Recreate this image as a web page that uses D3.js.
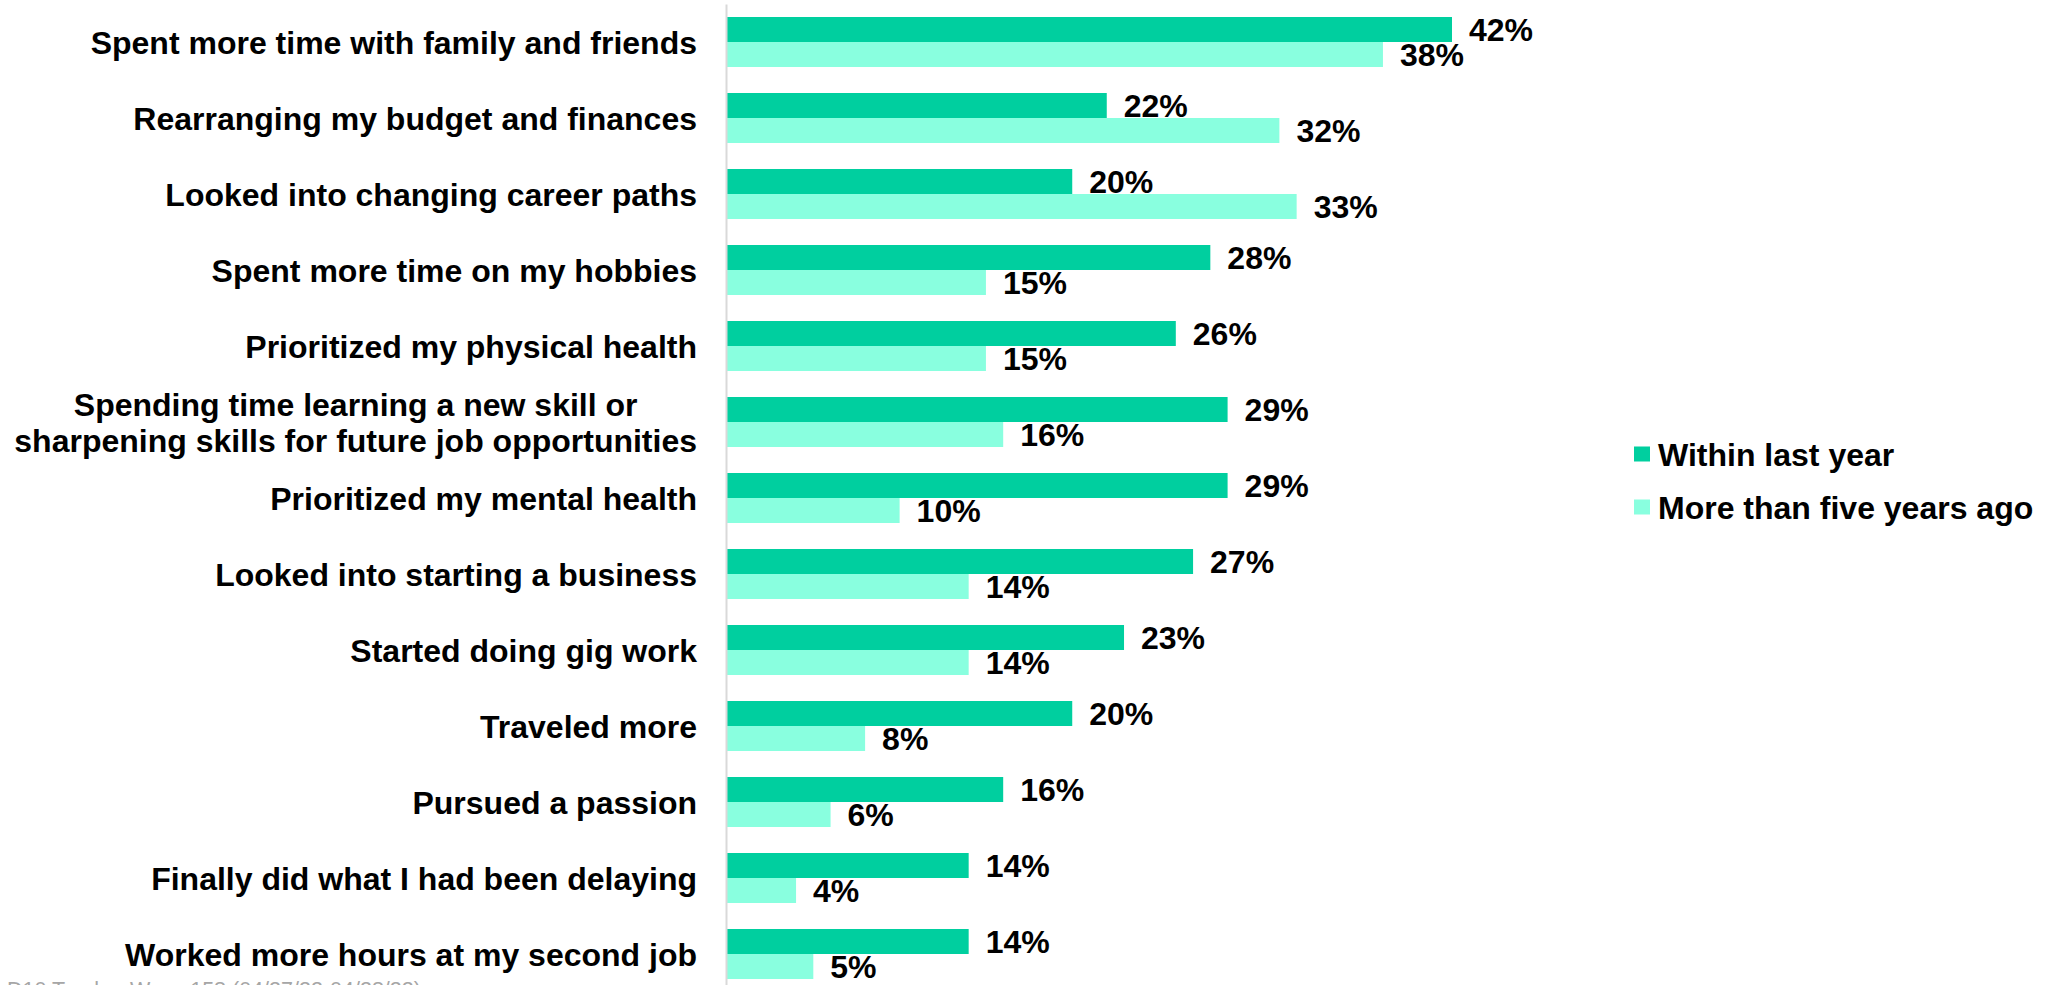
<!DOCTYPE html>
<html>
<head>
<meta charset="utf-8">
<script src="https://cdn.jsdelivr.net/npm/d3@7"></script>
<style>
  html, body { margin: 0; padding: 0; background: #ffffff; overflow: hidden; }
  svg { display: block; }
  text { font-family: "Liberation Sans", Arial, sans-serif; }
</style>
</head>
<body>
<svg id="chart" width="2051" height="985"></svg>
<script>
const categories = [
  "Spent more time with family and friends",
  "Rearranging my budget and finances",
  "Looked into changing career paths",
  "Spent more time on my hobbies",
  "Prioritized my physical health",
  "Spending time learning a new skill or\nsharpening skills for future job opportunities",
  "Prioritized my mental health",
  "Looked into starting a business",
  "Started doing gig work",
  "Traveled more",
  "Pursued a passion",
  "Finally did what I had been delaying",
  "Worked more hours at my second job"
];
const seriesNames = ["Within last year", "More than five years ago"];
const withinLastYear = [42, 22, 20, 28, 26, 29, 29, 27, 23, 20, 16, 14, 14];
const moreThanFiveYears = [38, 32, 33, 15, 15, 16, 10, 14, 14, 8, 6, 4, 5];
const seriesColors = ["#00CF9F", "#89FFDF"];
const footnote = "D10 Tracker Wave 158 (04/27/22-04/28/22)";

const seriesValues = [withinLastYear, moreThanFiveYears];
const rows = categories.map((c, i) => ({
  cat: c,
  vals: seriesNames.map((s, k) => ({ series: s, k: k, value: seriesValues[k][i] }))
}));

const svg = d3.select("#chart");
const axisX = 726;
const fontSize = 32;

const x = d3.scaleLinear().domain([0, 42]).range([axisX + 1, 1452]);
const y = d3.scaleBand().domain(categories).range([4, 992])
  .paddingInner(26 / 76).paddingOuter(13 / 76);
const ySub = d3.scaleBand().domain(seriesNames).range([0, y.bandwidth()]).padding(0);
const color = d3.scaleOrdinal().domain(seriesNames).range(seriesColors);

// Bars
const groups = svg.append("g").selectAll("g").data(rows).join("g")
  .attr("transform", d => `translate(0,${y(d.cat)})`);

groups.selectAll("rect").data(d => d.vals).join("rect")
  .attr("x", x(0))
  .attr("y", d => ySub(d.series))
  .attr("width", d => x(d.value) - x(0))
  .attr("height", ySub.bandwidth())
  .attr("fill", d => color(d.series));

groups.selectAll("text.val").data(d => d.vals).join("text")
  .attr("class", "val")
  .attr("x", d => x(d.value) + 17)
  .attr("y", d => ySub(d.series) + ySub.bandwidth() / 2)
  .attr("dy", "0.36em")
  .attr("font-size", fontSize)
  .attr("font-weight", "bold")
  .attr("fill", "#000")
  .text(d => d.value + "%");

// Category axis
const axis = d3.axisLeft(y).tickSize(0).tickSizeOuter(0).tickPadding(29);
const gAxis = svg.append("g").attr("transform", `translate(${axisX},0)`).call(axis);
gAxis.select(".domain").attr("stroke", "#D9D9D9").attr("stroke-width", 2);
gAxis.selectAll(".tick text")
  .attr("font-size", fontSize)
  .attr("font-weight", "bold")
  .attr("font-family", "'Liberation Sans', Arial, sans-serif")
  .attr("fill", "#000")
  .attr("dy", "0.36em")
  .each(function(d) {
    const lines = d.split("\n");
    if (lines.length < 2) { d3.select(this).text(d); return; }
    const t = d3.select(this);
    t.text(null);
    const lh = 36;
    const spans = lines.map((ln, i) => t.append("tspan")
      .attr("x", -29)
      .attr("y", (i - (lines.length - 1) / 2) * lh)
      .attr("dy", "0.36em")
      .text(ln));
    const widths = spans.map(s => s.node().getComputedTextLength());
    const maxW = d3.max(widths);
    t.attr("text-anchor", "middle");
    spans.forEach(s => s.attr("x", -29 - maxW / 2));
  });

// Legend
const legend = svg.append("g").attr("transform", "translate(1634,0)");
const legY = d3.scalePoint().domain(seriesNames).range([454, 507]);
seriesNames.forEach(s => {
  legend.append("rect").attr("x", 0).attr("y", legY(s) - 7.5)
    .attr("width", 16).attr("height", 15).attr("fill", color(s));
  legend.append("text").attr("x", 24).attr("y", legY(s)).attr("dy", "0.36em")
    .attr("font-size", fontSize).attr("font-weight", "bold").attr("fill", "#000").text(s);
});

// Footnote (partly below the bottom edge, as in the reference)
svg.append("text").attr("x", 7).attr("y", 996.5).attr("text-anchor", "start")
  .attr("font-size", 21.5).attr("fill", "#A6A6A6").text(footnote);
</script>
</body>
</html>
